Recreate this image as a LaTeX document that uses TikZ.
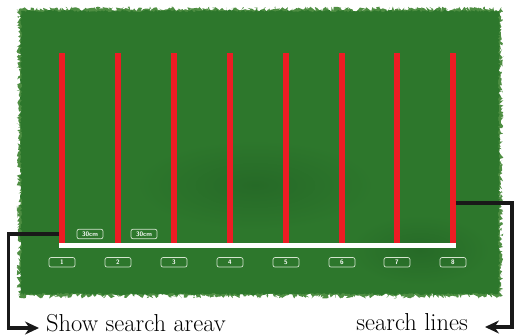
\documentclass[tikz,border=0pt]{standalone}
\usepackage{tikz}
\usetikzlibrary{arrows.meta, positioning, decorations.pathmorphing}
\definecolor{grass}{RGB}{45,119,44}
\definecolor{grassdark}{RGB}{38,106,39}
\definecolor{grassedge}{RGB}{78,142,66}
\definecolor{linered}{RGB}{236,28,36}
\definecolor{boxline}{RGB}{212,228,206}

\begin{document}
\begin{tikzpicture}[x=1pt, y=-1pt, every node/.style={font=\small},
    redline/.style={fill=linered, inner sep=0pt, minimum width=5.5pt, minimum height=190pt},
    numbox/.style={draw=boxline, line width=0.7pt, rounded corners=2pt, inner sep=0pt, minimum width=26pt, minimum height=9.5pt, text=white, font=\sffamily\bfseries\fontsize{6.5}{6.5}\selectfont},
    caption/.style={inner sep=0pt, inner xsep=7pt, text height=6pt, text depth=0pt, font=\fontsize{24.5}{29}\selectfont},
    conn/.style={draw=black!90, line width=3.2pt, -{Stealth[length=14pt, width=13pt]}}]

    \pgfmathsetseed{5}
    \useasboundingbox (0,0) rectangle (515,335);
    % grass
    \fill[grassedge, decorate, decoration={random steps, segment length=1.2pt, amplitude=2.5pt}] (19,9) rectangle (501,296);
    \fill[grass, decorate, decoration={random steps, segment length=1.5pt, amplitude=1.2pt}] (21,11) rectangle (499,294);
    \shade[inner color=grassdark, outer color=grass] (255,185) ellipse (120 and 45);
    \shade[inner color=grassdark, outer color=grass] (420,250) ellipse (70 and 35);

    % search lines
    \node[redline] (l1) at (62,148) {};
    \node[redline] (l2) at (118,148) {};
    \node[redline] (l3) at (174,148) {};
    \node[redline] (l4) at (230,148) {};
    \node[redline] (l5) at (286,148) {};
    \node[redline] (l6) at (342,148) {};
    \node[redline] (l7) at (397,148) {};
    \node[redline] (l8) at (453,148) {};
    \fill[white] (l1.south west) rectangle ([yshift=-5pt]l8.south east);

    \node[numbox] (c1) at (90,234) {30cm};
    \node[numbox] (c2) at (144,234) {30cm};

    \node[numbox, below=14pt of l1] (n1) {1};
    \node[numbox, below=14pt of l2] (n2) {2};
    \node[numbox, below=14pt of l3] (n3) {3};
    \node[numbox, below=14pt of l4] (n4) {4};
    \node[numbox, below=14pt of l5] (n5) {5};
    \node[numbox, below=14pt of l6] (n6) {6};
    \node[numbox, below=14pt of l7] (n7) {7};
    \node[numbox, below=14pt of l8] (n8) {8};

    \node[caption, anchor=base west] (show) at (39,331) {Show search areav};
    \node[caption, anchor=base east, inner xsep=17pt] (lines) at (485,330) {search lines};

    \draw[conn] (l1.west |- c1) -- ++(-50.5,0) |- (show.west);
    \draw[conn] ([yshift=-55pt]l8.east) -- ++(56,0) |- (lines.east);
\end{tikzpicture}
\end{document}
